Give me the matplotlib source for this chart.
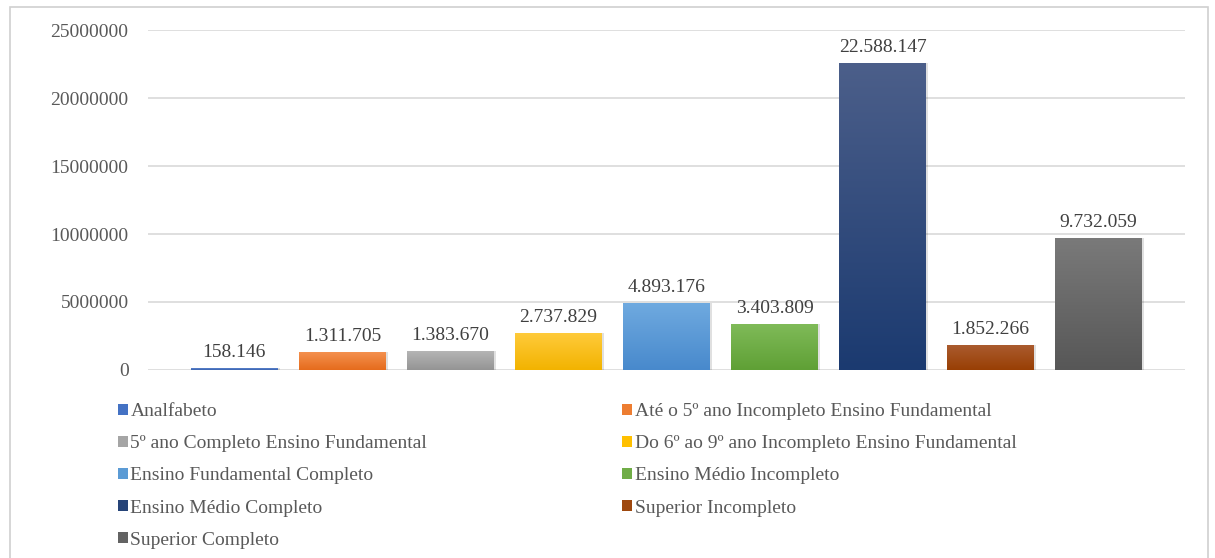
import matplotlib.pyplot as plt
import numpy as np
from matplotlib.colors import LinearSegmentedColormap
from matplotlib.patches import Patch, Rectangle

plt.rcParams["font.family"] = ["Liberation Serif", "DejaVu Serif"]

categories = [
    "Analfabeto",
    "Até o 5º ano Incompleto Ensino Fundamental",
    "5º ano Completo Ensino Fundamental",
    "Do 6º ao 9º ano Incompleto Ensino Fundamental",
    "Ensino Fundamental Completo",
    "Ensino Médio Incompleto",
    "Ensino Médio Completo",
    "Superior Incompleto",
    "Superior Completo",
]
values = [158146, 1311705, 1383670, 2737829, 4893176, 3403809, 22588147, 1852266, 9732059]
value_labels = ["158.146", "1.311.705", "1.383.670", "2.737.829", "4.893.176",
                "3.403.809", "22.588.147", "1.852.266", "9.732.059"]
yticks = [0, 5000000, 10000000, 15000000, 20000000, 25000000]

# main colour, top of gradient, bottom of gradient
colors = ["#4472C4", "#ED7D31", "#A5A5A5", "#FFC000", "#5B9BD5",
          "#70AD47", "#264478", "#9E480E", "#636363"]
tops = ["#6a91d8", "#f4904f", "#b5b5b5", "#ffcb3c", "#6faae0",
        "#80bb59", "#4c5f8a", "#ab5c30", "#7a7a7a"]
bottoms = ["#3a63b0", "#e56c1c", "#949494", "#f2b300", "#4889cc",
           "#5fa035", "#1b3a70", "#983f04", "#575757"]

fig = plt.figure(figsize=(12.15, 5.58), dpi=100)
ax = fig.add_axes([0.1218, 0.337, 0.8535, 0.609])

x = np.arange(len(values))
bars = ax.bar(x, values, width=0.8, color=colors, zorder=2)

grad = np.linspace(0, 1, 256).reshape(-1, 1)
for b, top, bot in zip(bars, tops, bottoms):
    # soft shadow
    sh = Rectangle((b.get_x() + 0.02, 0), b.get_width(), b.get_height(),
                   facecolor="#000000", alpha=0.12, edgecolor="none", zorder=1.5)
    ax.add_patch(sh)
    cmap = LinearSegmentedColormap.from_list("g", [bot, top])
    im = ax.imshow(grad, extent=[b.get_x(), b.get_x() + b.get_width(), 0, b.get_height()],
                   origin="lower", aspect="auto", cmap=cmap, zorder=2.1)
    im.set_clip_path(b)

for xi, v, lab in zip(x, values, value_labels):
    ax.annotate(lab, (xi, v), xytext=(0, 5), textcoords="offset points",
                ha="center", va="bottom", fontsize=14, color="#404040")

ax.set_xlim(-0.8, 8.8)
ax.set_ylim(0, 25000000)
ax.set_yticks(yticks)
ax.set_yticklabels([str(t) for t in yticks])
ax.set_xticks([])
ax.tick_params(axis="y", length=0, pad=14, labelsize=14, labelcolor="#595959")
ax.grid(axis="y", color="#d9d9d9", linewidth=1.2, zorder=0)
ax.set_axisbelow(True)
for s in ax.spines.values():
    s.set_visible(False)

handles = [Patch(facecolor=c, edgecolor="none") for c in colors]
left = [0, 2, 4, 6, 8]
right = [1, 3, 5, 7]
leg_kw = dict(frameon=False, fontsize=14, handlelength=0.5, handleheight=0.5,
              handletextpad=0.15, labelspacing=0.78, borderpad=0, labelcolor="#595959")
leg1 = fig.legend([handles[i] for i in left], [categories[i] for i in left],
                  loc="upper left", bbox_to_anchor=(0.089, 0.295), **leg_kw)
leg2 = fig.legend([handles[i] for i in right], [categories[i] for i in right],
                  loc="upper left", bbox_to_anchor=(0.504, 0.295), **leg_kw)

# outer chart border
fig.patches.append(Rectangle((0.008, -0.01), 0.986, 0.998, transform=fig.transFigure,
                             fill=False, edgecolor="#d0d0d0", linewidth=1.2))

fig.savefig("out.png", dpi=100)
